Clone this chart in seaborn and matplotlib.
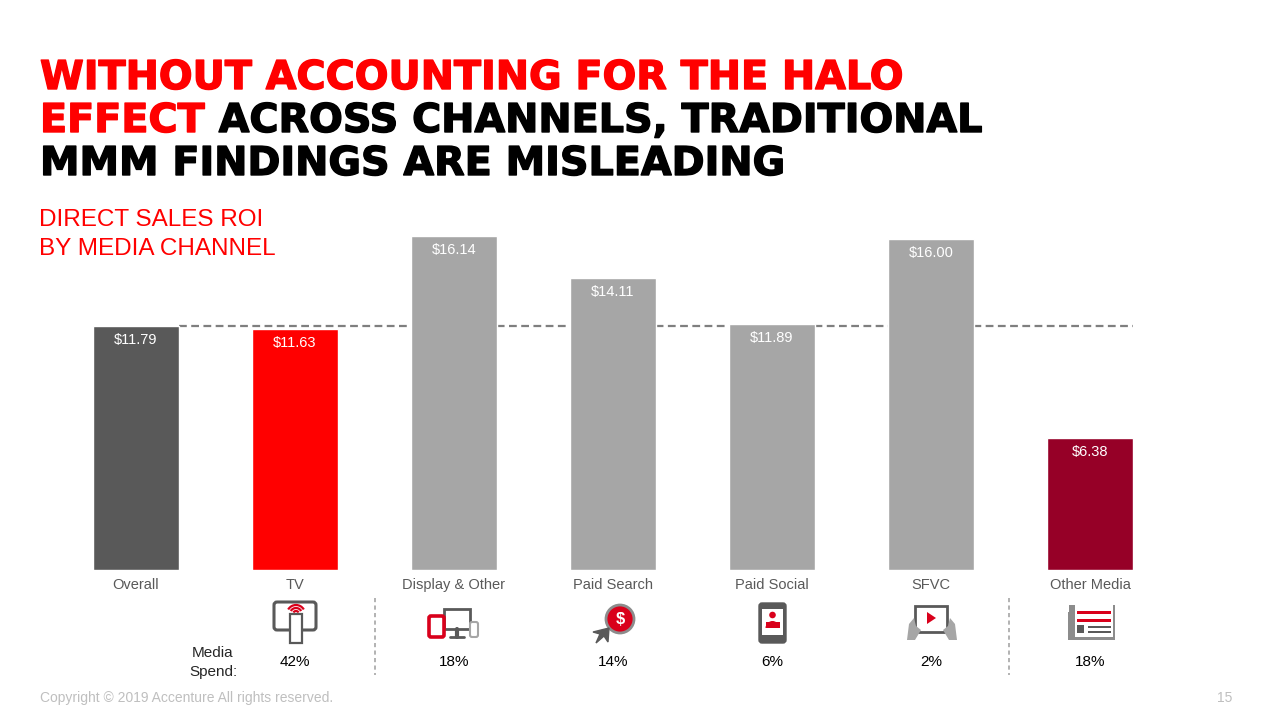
import numpy as np
import matplotlib.pyplot as plt
import matplotlib.patches as mpatches
import matplotlib.patheffects as pe
import seaborn as sns

# data
channels = ['Overall', 'TV', 'Display & Other', 'Paid Search', 'Paid Social', 'SFVC', 'Other Media']
roi = [11.79, 11.63, 16.14, 14.11, 11.89, 16.00, 6.38]
spend = ['', '42%', '18%', '14%', '6%', '2%', '18%']
bar_colors = ['#595959', '#FF0000', '#A6A6A6', '#A6A6A6', '#A6A6A6', '#A6A6A6', '#960027']

RED = '#FF0000'
sns.set_style('white')
plt.rcParams['font.family'] = ['Liberation Sans', 'DejaVu Sans']

fig = plt.figure(figsize=(12.8, 7.2), dpi=100)

# bar axes: pixel 56.5..1169.5 horizontally, baseline at y=570
ax = fig.add_axes([56.5 / 1280, 1 - 570 / 720, 1113 / 1280, 370 / 720])
sns.barplot(x=channels, y=roi, hue=channels, palette=bar_colors, legend=False,
            width=0.54, saturation=1, ax=ax, zorder=2)
ax.set_xlim(-0.5, 6.5)
ax.set_ylim(0, 370 / 20.7)
ax.axis('off')
ax.plot([0.27, 6.27], [roi[0], roi[0]], ls=(0, (3.5, 2)), color='#7F7F7F', lw=1.6, zorder=1)
for i, v in enumerate(roi):
    ax.text(i, v - 0.68, '${:.2f}'.format(v), ha='center', va='center', color='white', fontsize=10.5, zorder=3)

# overlay in pixel coords
ov = fig.add_axes([0, 0, 1, 1])
ov.set_xlim(0, 1280)
ov.set_ylim(720, 0)
ov.axis('off')
ov.patch.set_alpha(0)

centers = [136 + 159 * i for i in range(7)]
for c, name in zip(centers, channels):
    ov.text(c, 585, name, ha='center', va='center', color='#595959', fontsize=10.5)
for c, s in zip(centers, spend):
    if s:
        ov.text(c, 662, s, ha='center', va='center', color='black', fontsize=11)
ov.text(233, 653, 'Media', ha='right', va='center', fontsize=11)
ov.text(237, 672, 'Spend:', ha='right', va='center', fontsize=11)
for x in [375, 1009]:
    ov.plot([x, x], [598, 675], ls=(0, (2.5, 2)), color='#A6A6A6', lw=1.2)

# title with mixed colours, size fitted to the reference line width
renderer = fig.canvas.get_renderer()
tkw = dict(fontweight='bold', family=['DejaVu Sans'], va='baseline')
probe = ov.text(40, 89, 'WITHOUT ACCOUNTING FOR THE HALO', fontsize=30, **tkw)
fs = 30 * 865 / probe.get_window_extent(renderer).width
probe.remove()


def heavy(x, y, s, color):
    t = ov.text(x, y, s, color=color, fontsize=fs, **tkw)
    t.set_path_effects([pe.Stroke(linewidth=1.0, foreground=color), pe.Normal()])
    return t


heavy(40, 89, 'WITHOUT ACCOUNTING FOR THE HALO', RED)
t = heavy(40, 132, 'EFFECT', RED)
w = t.get_window_extent(renderer).width
heavy(40 + w, 132, ' ACROSS CHANNELS, TRADITIONAL', 'black')
heavy(40, 175, 'MMM FINDINGS ARE MISLEADING', 'black')

ov.text(39, 220, 'DIRECT SALES ROI', color=RED, fontsize=17.5, va='center')
ov.text(39, 249, 'BY MEDIA CHANNEL', color=RED, fontsize=17.5, va='center')

ov.text(40, 698, 'Copyright \u00a9 2019 Accenture All rights reserved.', color='#BFBFBF', fontsize=10, va='center')
ov.text(1225, 698, '15', color='#BFBFBF', fontsize=10, va='center', ha='center')

# icons (simplified)
G = '#595959'
LG = '#A6A6A6'
IR = '#D9001B'
# TV
ov.add_patch(mpatches.FancyBboxPatch((274, 602), 42, 28, boxstyle='round,pad=0,rounding_size=3',
                                     fc='none', ec=G, lw=2.2))
ov.add_patch(mpatches.Rectangle((290, 614), 12, 29, fc='white', ec=G, lw=1.6, zorder=3))
for r in [3, 6, 9]:
    ov.add_patch(mpatches.Arc((296, 614), 2 * r, 2 * r, theta1=210, theta2=330, color=IR, lw=1.6))
# display
ov.add_patch(mpatches.Rectangle((444, 609), 26, 20, fc='none', ec=G, lw=2))
ov.plot([450, 464], [637, 637], color=G, lw=2)
ov.plot([457, 457], [629, 637], color=G, lw=3)
ov.add_patch(mpatches.FancyBboxPatch((429, 616), 15, 21, boxstyle='round,pad=0,rounding_size=2',
                                     fc='white', ec=IR, lw=2.6, zorder=3))
ov.add_patch(mpatches.FancyBboxPatch((470, 622), 8, 15, boxstyle='round,pad=0,rounding_size=2',
                                     fc='white', ec=LG, lw=1.5, zorder=3))
# paid search
ov.add_patch(mpatches.Circle((620, 619), 14, fc=IR, ec='#8C8C8C', lw=2, zorder=3))
ov.text(620, 619, '$', color='white', ha='center', va='center', fontsize=12, fontweight='bold', zorder=4)
ov.add_patch(mpatches.Polygon([[609, 628], [593, 632], [600, 634], [596, 643], [604, 636], [608, 642]],
                              fc=G, ec=G, zorder=4))
# paid social
ov.add_patch(mpatches.FancyBboxPatch((759, 603), 27, 40, boxstyle='round,pad=0,rounding_size=3',
                                     fc=G, ec=G))
ov.add_patch(mpatches.Rectangle((762, 609), 21, 26, fc='white', ec='none'))
ov.add_patch(mpatches.Circle((772.5, 615), 3.3, fc=IR, ec='none'))
ov.add_patch(mpatches.Wedge((772.5, 628), 7, 180, 360, fc=IR, ec='none'))
ov.add_patch(mpatches.Rectangle((765.5, 622), 14, 6, fc=IR, ec='none'))
# SFVC
ov.add_patch(mpatches.Rectangle((915, 606), 32, 26, fc='none', ec=G, lw=2))
ov.add_patch(mpatches.Polygon([[927, 612], [927, 624], [936, 618]], fc=IR, ec='none'))
ov.add_patch(mpatches.Polygon([[907, 640], [909, 624], [914, 618], [916, 626], [921, 630], [915, 640]],
                              fc=LG, ec='none', zorder=3))
ov.add_patch(mpatches.Polygon([[957, 640], [955, 624], [950, 618], [948, 626], [943, 630], [949, 640]],
                              fc=LG, ec='none', zorder=3))
# other media
ov.add_patch(mpatches.Rectangle((1069, 605), 46, 35, fc='#8C8C8C', ec='none'))
ov.add_patch(mpatches.Rectangle((1075, 605), 38, 32, fc='white', ec='none'))
ov.add_patch(mpatches.Rectangle((1068, 612), 5, 28, fc='#8C8C8C', ec='none'))
ov.add_patch(mpatches.Rectangle((1077, 611), 34, 3, fc=IR, ec='none'))
ov.add_patch(mpatches.Rectangle((1077, 619), 34, 3, fc=IR, ec='none'))
ov.add_patch(mpatches.Rectangle((1077, 625), 7, 8, fc=G, ec='none'))
ov.add_patch(mpatches.Rectangle((1088, 626), 23, 2, fc=G, ec='none'))
ov.add_patch(mpatches.Rectangle((1088, 631), 23, 2, fc=G, ec='none'))

fig.savefig('out.png', dpi=100)
